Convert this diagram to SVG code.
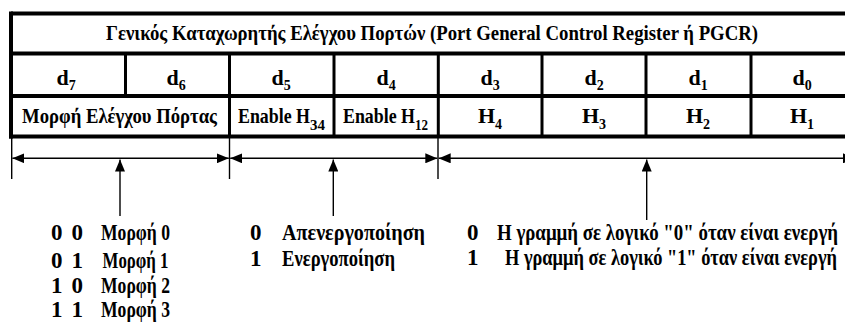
<svg xmlns="http://www.w3.org/2000/svg" width="845" height="322" viewBox="0 0 845 322">
<style>
.txt text{font-family:'Liberation Serif','DejaVu Serif',serif;font-weight:700;fill:#000}
.t{font-size:22px}
.c{font-size:22px;text-anchor:middle}
.sub{font-size:14px}
.b{font-size:23px}
.thick{stroke:#000;stroke-width:4;fill:none}
.div{stroke:#000;stroke-width:3;fill:none}
.thin{stroke:#000;stroke-width:1.4;fill:none}
</style>
<defs>
<marker id="ah" markerUnits="userSpaceOnUse" markerWidth="12" markerHeight="10" refX="12" refY="5" orient="auto-start-reverse">
<path d="M0,0 L12,5 L0,10 z" fill="#000"/>
</marker>
</defs>
<rect width="845" height="322" fill="#fff"/>
<g id="table">
<line class="thick" x1="11" y1="13.5" x2="860" y2="13.5"/>
<line class="thick" x1="11" y1="53.5" x2="860" y2="53.5"/>
<line class="thick" x1="11" y1="96" x2="860" y2="96"/>
<line class="thick" x1="9" y1="136.5" x2="860" y2="136.5"/>
<line class="thick" x1="11" y1="11.5" x2="11" y2="138.5"/>
<line class="div" x1="125.5" y1="53.5" x2="125.5" y2="96"/>
<line class="div" x1="229.5" y1="53.5" x2="229.5" y2="136.5"/>
<line class="div" x1="334" y1="53.5" x2="334" y2="136.5"/>
<line class="div" x1="438.3" y1="53.5" x2="438.3" y2="136.5"/>
<line class="div" x1="542" y1="53.5" x2="542" y2="136.5"/>
<line class="div" x1="646" y1="53.5" x2="646" y2="136.5"/>
<line class="div" x1="751" y1="53.5" x2="751" y2="136.5"/>
</g>
<g class="txt" font-family="Liberation Serif, DejaVu Serif, serif" font-weight="bold">
<g id="title">
<text class="t" x="106" y="40" textLength="652" lengthAdjust="spacingAndGlyphs">Γενικός Καταχωρητής Ελέγχου Πορτών  (Port General Control Register ή PGCR)</text>
</g>
<g id="bits">
<text class="c" x="66" y="85">d<tspan class="sub" dy="5">7</tspan></text>
<text class="c" x="176" y="85">d<tspan class="sub" dy="5">6</tspan></text>
<text class="c" x="281" y="85">d<tspan class="sub" dy="5">5</tspan></text>
<text class="c" x="386" y="85">d<tspan class="sub" dy="5">4</tspan></text>
<text class="c" x="490" y="85">d<tspan class="sub" dy="5">3</tspan></text>
<text class="c" x="594" y="85">d<tspan class="sub" dy="5">2</tspan></text>
<text class="c" x="698" y="85">d<tspan class="sub" dy="5">1</tspan></text>
<text class="c" x="802" y="85">d<tspan class="sub" dy="5">0</tspan></text>
</g>
<g id="fields">
<text class="t" x="22" y="123" textLength="195" lengthAdjust="spacingAndGlyphs">Μορφή Ελέγχου Πόρτας</text>
<text class="t" x="238" y="123" textLength="72" lengthAdjust="spacingAndGlyphs">Enable H</text>
<text class="sub" x="310" y="130" textLength="15" lengthAdjust="spacingAndGlyphs">34</text>
<text class="t" x="343" y="123" textLength="72" lengthAdjust="spacingAndGlyphs">Enable H</text>
<text class="sub" x="415" y="130" textLength="13" lengthAdjust="spacingAndGlyphs">12</text>
<text class="c" x="490" y="123">H<tspan class="sub" dy="6">4</tspan></text>
<text class="c" x="594" y="123">H<tspan class="sub" dy="6">3</tspan></text>
<text class="c" x="698" y="123">H<tspan class="sub" dy="6">2</tspan></text>
<text class="c" x="802" y="123">H<tspan class="sub" dy="6">1</tspan></text>
</g>
<g id="legend-format">
<text class="b" x="51" y="240">0</text><text class="b" x="71.5" y="240">0</text>
<text class="b" x="101" y="240" textLength="69" lengthAdjust="spacingAndGlyphs">Μορφή 0</text>
<text class="b" x="51" y="268">0</text><text class="b" x="71.5" y="268">1</text>
<text class="b" x="102.5" y="268" textLength="66" lengthAdjust="spacingAndGlyphs">Μορφή 1</text>
<text class="b" x="51" y="293">1</text><text class="b" x="71.5" y="293">0</text>
<text class="b" x="101" y="293" textLength="69" lengthAdjust="spacingAndGlyphs">Μορφή 2</text>
<text class="b" x="51" y="317">1</text><text class="b" x="71.5" y="317">1</text>
<text class="b" x="101" y="317" textLength="69" lengthAdjust="spacingAndGlyphs">Μορφή 3</text>
</g>
<g id="legend-enable">
<text class="b" x="250" y="240">0</text>
<text class="b" x="282" y="240" textLength="143" lengthAdjust="spacingAndGlyphs">Απενεργοποίηση</text>
<text class="b" x="250" y="266">1</text>
<text class="b" x="282" y="266" textLength="113" lengthAdjust="spacingAndGlyphs">Ενεργοποίηση</text>
</g>
<g id="legend-lines">
<text class="b" x="467" y="240">0</text>
<text class="b" x="497" y="240" textLength="341" lengthAdjust="spacingAndGlyphs">Η γραμμή σε λογικό "0" όταν  είναι ενεργή</text>
<text class="b" x="467" y="265">1</text>
<text class="b" x="505" y="265" textLength="332" lengthAdjust="spacingAndGlyphs">Η γραμμή σε λογικό "1" όταν είναι ενεργή</text>
</g>
</g>
<g id="connectors">
<line class="thin" x1="11.7" y1="138" x2="11.7" y2="179"/>
<line class="thin" x1="229.5" y1="138" x2="229.5" y2="179"/>
<line class="thin" x1="438" y1="138" x2="438" y2="179"/>
<line class="thin" x1="12.4" y1="158.3" x2="228.8" y2="158.3" marker-start="url(#ah)" marker-end="url(#ah)"/>
<line class="thin" x1="230.2" y1="158.3" x2="437.3" y2="158.3" marker-start="url(#ah)" marker-end="url(#ah)"/>
<line class="thin" x1="438.7" y1="158.3" x2="855" y2="158.3" marker-start="url(#ah)" marker-end="url(#ah)"/>
<line class="thin" x1="120" y1="216" x2="120" y2="159.5" marker-end="url(#ah)"/>
<line class="thin" x1="333.3" y1="216" x2="333.3" y2="159.5" marker-end="url(#ah)"/>
<line class="thin" x1="646.7" y1="220" x2="646.7" y2="159.5" marker-end="url(#ah)"/>
</g>
</svg>
